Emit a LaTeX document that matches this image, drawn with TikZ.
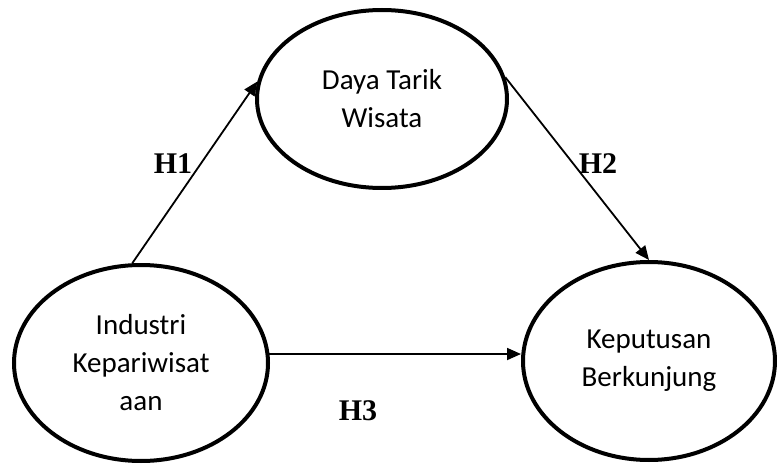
\documentclass[tikz,border=0pt]{standalone}
\usepackage{fontspec}
\setmainfont{Liberation Serif}
\newfontfamily\bodyfont{Carlito}
\usetikzlibrary{shapes.geometric,arrows.meta}
\tikzset{
  construct/.style={draw, ellipse, line width=4pt, inner sep=0pt, align=center,
    font=\bodyfont\fontsize{29}{38}\selectfont},
  path arrow/.style={line width=1.8pt, -{Triangle[length=14pt,width=12pt]}},
  hyp/.style={font=\bfseries\fontsize{30}{36}\selectfont, anchor=base, inner sep=0pt}
}
\begin{document}
\begin{tikzpicture}[x=1pt,y=-1pt]
  \useasboundingbox (0,0) rectangle (777,468);
  \fill[white] (0,0) rectangle (777,468);

  % constructs
  \node[construct, minimum width=250pt, minimum height=178pt] (daya) at (382,99) {Daya Tarik\\Wisata};
  \node[construct, minimum width=254pt, minimum height=196pt] (ind) at (141,363) {Industri\\Kepariwisat\\aan};
  \node[construct, minimum width=252pt, minimum height=198pt] (kep) at (649,361) {Keputusan\\Berkunjung};

  % hypothesised paths
  \draw[path arrow] (ind.95) -- (daya.172);
  \draw[path arrow] (daya.10) -- (kep.90.6);
  \draw[path arrow] (ind.4) -- (ind.4 -| kep.west);

  % hypothesis labels
  \node[hyp] (h1) at (173,174) {H1};
  \node[hyp] (h2) at (598,174) {H2};
  \node[hyp] (h3) at (358,420) {H3};
\end{tikzpicture}
\end{document}
